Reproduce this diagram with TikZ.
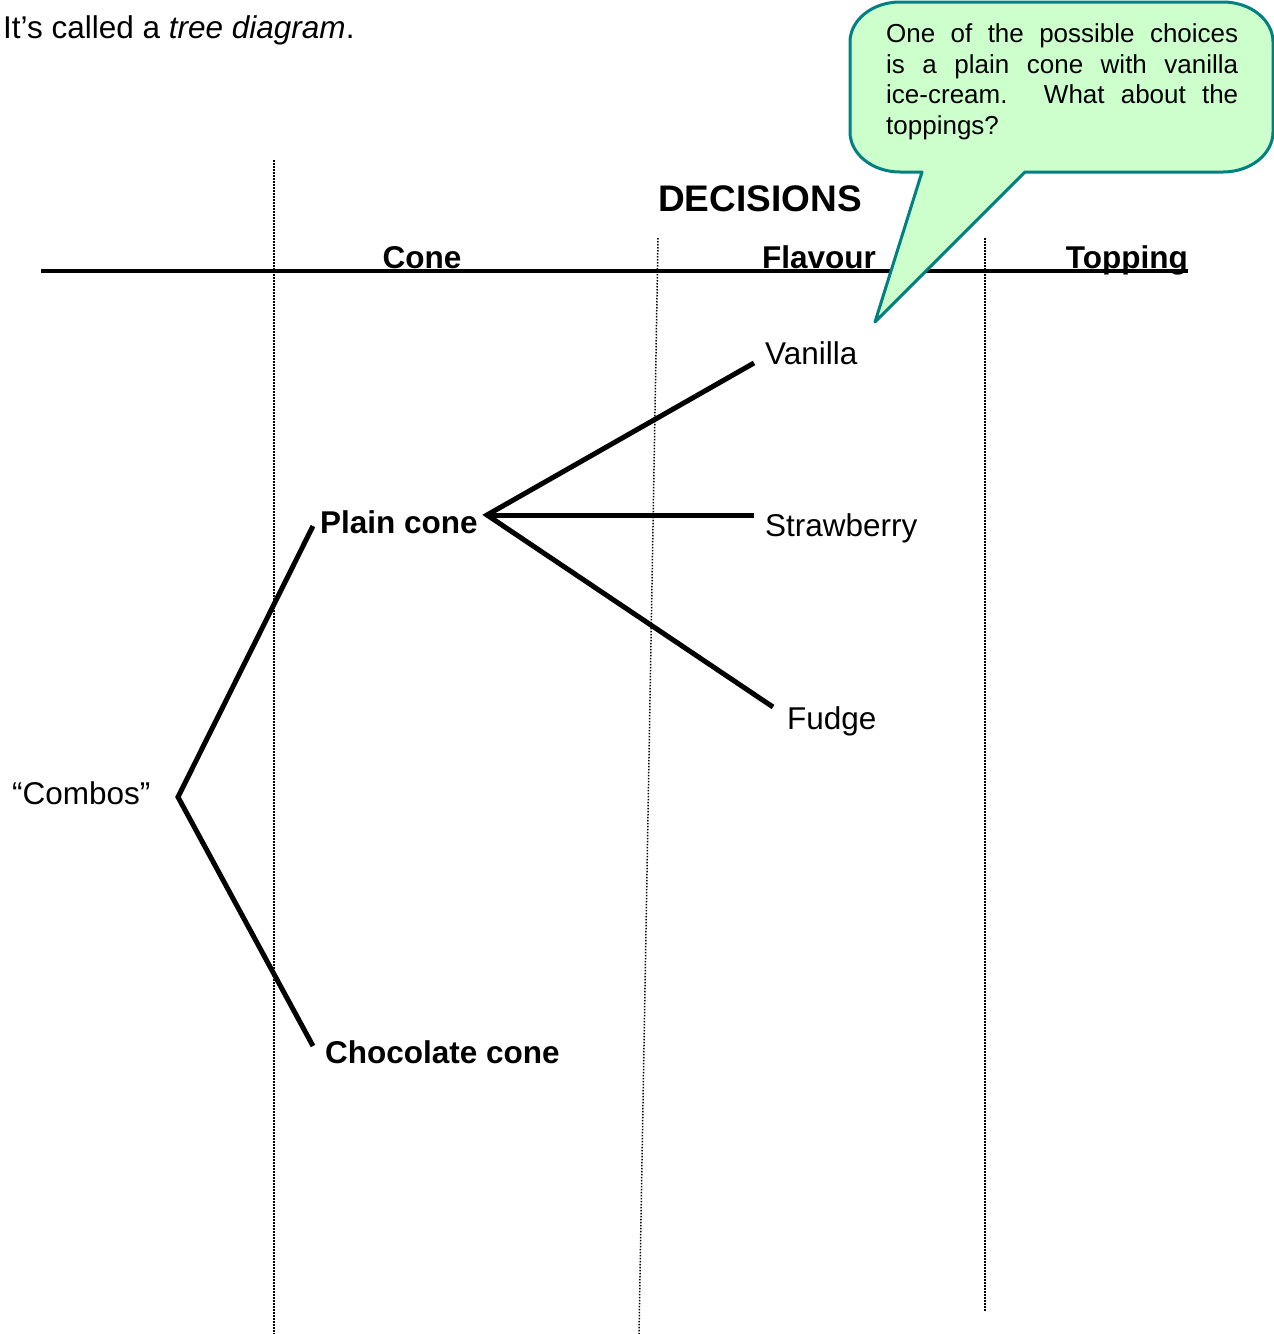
\documentclass[tikz,border=0pt]{standalone}
\usepackage{fontspec}
\setmainfont{Liberation Sans}
\definecolor{calloutfill}{RGB}{204,255,204}
\definecolor{calloutdraw}{RGB}{0,128,128}
\begin{document}
\begin{tikzpicture}[x=1pt,y=-1pt,
  txt/.style={anchor=base west,inner sep=0pt,font=\fontsize{31.5}{36}\selectfont},
  bold/.style={txt,font=\fontsize{31.5}{36}\selectfont\bfseries},
  branch/.style={line width=5pt},
  guide/.style={dash pattern=on 1.5pt off 1.5pt,line width=1.5pt},
  ctext/.style={font=\fontsize{26}{30.5}\selectfont}]
\useasboundingbox (0,0) rectangle (1274,1334);

% intro
\node[txt] (intro) at (3,38) {It’s called a \textit{tree diagram}.};

% dotted guides
\coordinate (g1t) at (274,160); \coordinate (g1b) at (274,1334);
\coordinate (g2t) at (658,238); \coordinate (g2b) at (639,1334);
\coordinate (g3t) at (985,238); \coordinate (g3b) at (985,1312);
\draw[guide] (g1t) -- (g1b);
\draw[guide] (g2t) -- (g2b);
\draw[guide] (g3t) -- (g3b);

% headers
\node[anchor=base,inner sep=0pt,font=\fontsize{37}{42}\selectfont\bfseries] (dec) at (760,211) {DECISIONS};
\coordinate (hl) at (41,271); \coordinate (hr) at (1188,271);
\draw[line width=4pt] (hl) -- (hr);
\node[bold,anchor=base] (cone) at (422,268) {Cone};
\node[bold,anchor=base] (flav) at (819,268) {Flavour};
\node[bold,anchor=base east] (top) at (1188,268) {Topping};

% tree
\node[txt] (combos) at (12,804) {“Combos”};
\node[bold] (plain) at (320,533) {Plain cone};
\node[bold] (choc) at (325,1063) {Chocolate cone};
\node[txt] (van) at (765,364) {Vanilla};
\node[txt] (straw) at (765,536) {Strawberry};
\node[txt] (fudge) at (787,729) {Fudge};

\coordinate (root) at (178,797);
\coordinate (pcin) at (313,526);
\coordinate (ccin) at (313,1046);
\coordinate (pcout) at (487,515);
\coordinate (vin) at (754,363);
\coordinate (sin) at (754,515);
\coordinate (fin) at (773,707);
\draw[branch] (pcin) -- (root) -- (ccin);
\draw[branch] (vin) -- (pcout) -- (fin);
\draw[branch] (pcout) -- (sin);

% callout
\draw[fill=calloutfill,draw=calloutdraw,line width=3pt,line join=round]
  (875,322) -- (1025,172) -- (1223,172)
  .. controls (1250.6,172) and (1273,154) .. (1273,132)
  -- (1273,42)
  .. controls (1273,20) and (1250.6,2) .. (1223,2)
  -- (900,2)
  .. controls (872.4,2) and (850,20) .. (850,42)
  -- (850,132)
  .. controls (850,154) and (872.4,172) .. (900,172)
  -- (922,172) -- cycle;
\node[ctext,anchor=base west,inner sep=0pt,align=left] (callout) at (886,134)
  {\makebox[352pt][s]{One of the possible choices}\\
   \makebox[352pt][s]{is a plain cone with vanilla}\\
   \makebox[352pt][s]{ice-cream. What about the}\\
   toppings?};
\end{tikzpicture}
\end{document}
